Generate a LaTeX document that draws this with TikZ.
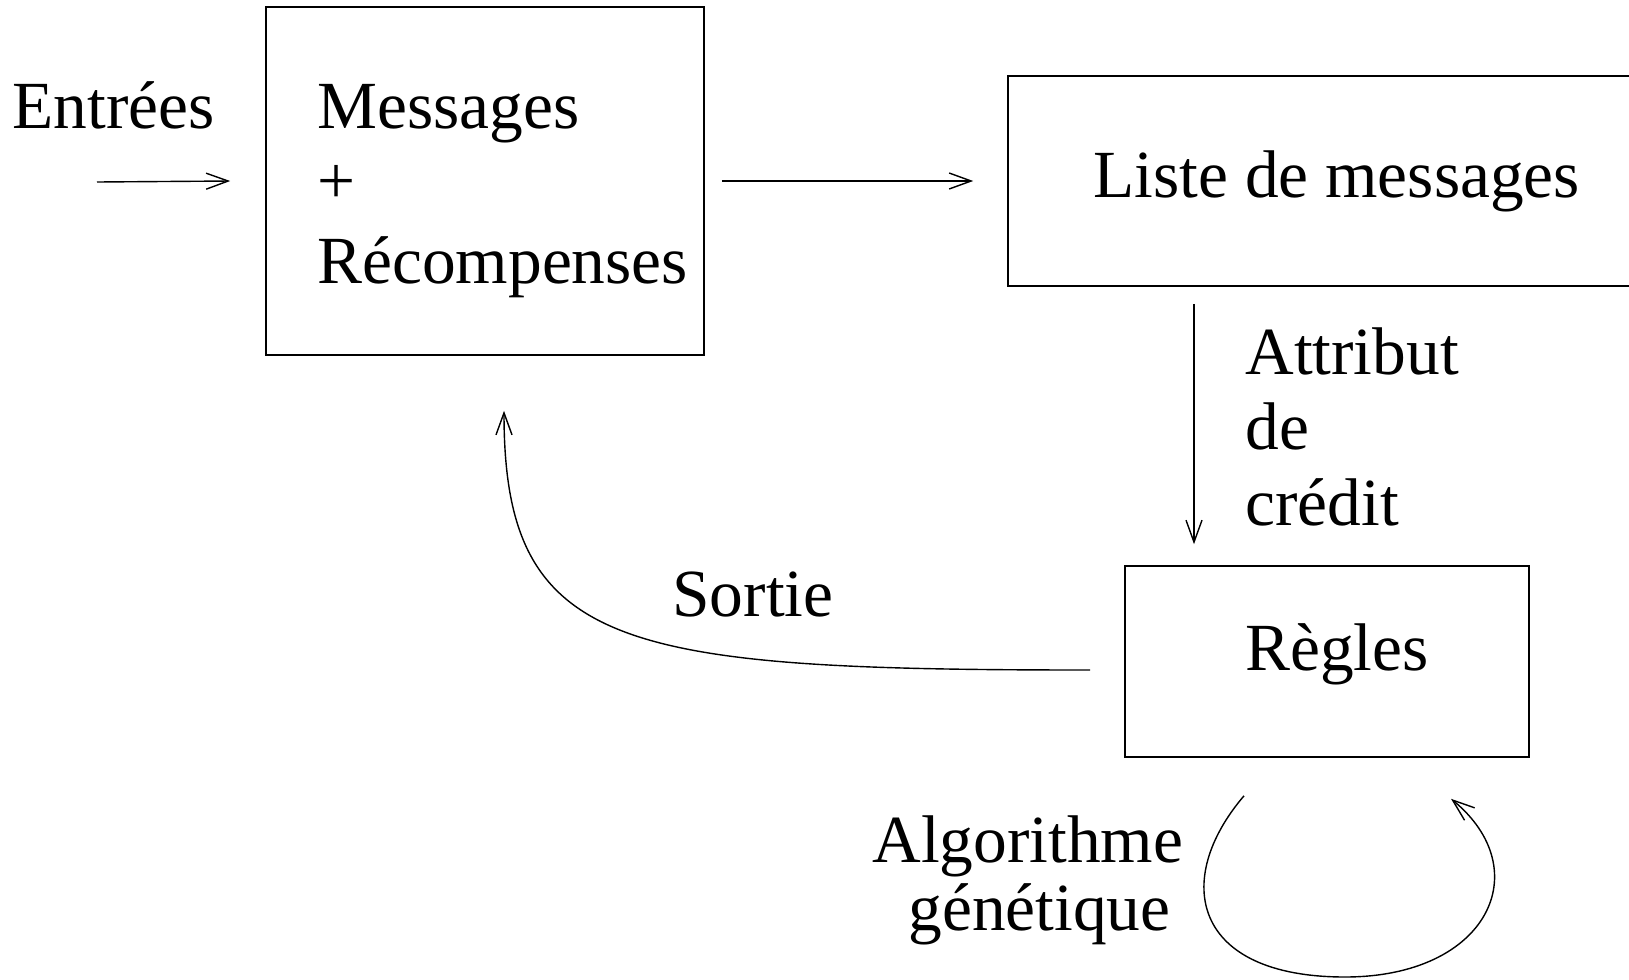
\documentclass[tikz,border=0pt]{standalone}
\usepackage{fontspec}
\setmainfont{Liberation Serif}
\usetikzlibrary{arrows.meta}
\begin{document}
\begin{tikzpicture}[x=0.5pt,y=-0.5pt,
  box/.style={draw,line width=0.8pt,inner sep=0pt,rectangle},
  txt/.style={inner sep=0pt,anchor=base west,font=\fontsize{33.7}{38}\selectfont},
  arr/.style={line width=0.7pt,-{Straight Barb[length=11pt,width=8pt,line width=0.7pt]}}]
\useasboundingbox (0,0) rectangle (1629,980);
% boxes
\node[box,minimum width=219pt,minimum height=174pt] (m) at (485,181) {};
\node[box,minimum width=326pt,minimum height=105pt] (l) at (1334,181) {};
\node[box,minimum width=202pt,minimum height=95.5pt] (r) at (1327,661.5) {};
% texts
\node[txt] (ent) at (12,128) {Entrées};
\node[txt] (m1) at (317,128) {Messages};
\node[txt] (m2) at (317,203) {+};
\node[txt] (m3) at (317,283) {Récompenses};
\node[txt] (lt) at (1093,197) {Liste de messages};
\node[txt] (a1) at (1245,374) {Attribut};
\node[txt] (a2) at (1245,449) {de};
\node[txt] (a3) at (1245,525) {crédit};
\node[txt] (rt) at (1245,670) {Règles};
\node[txt] (so) at (672,616) {Sortie};
\node[txt] (g1) at (872,862) {Algorithme};
\node[txt] (g2) at (908,930) {génétique};
% connectors
\coordinate (ein) at (97,182);
\draw[arr] (ein) -- ([xshift=-17.5pt]m.west);
\draw[arr,shorten <=8.5pt,shorten >=17pt] (m.east) -- (l.west);
\coordinate (dx) at (1194,0);
\draw[arr,shorten <=8.5pt,shorten >=10.5pt] (l.south -| dx) -- (r.north -| dx);
\draw[arr] ([shift={(-34,8.5)}]r.west) .. controls (620,670) and (504,650) .. ([shift={(19,55)}]m.south);
\draw[arr] ([shift={(-83,38)}]r.south) .. controls (1172,880) and (1192,977) .. (1345,977)
  .. controls (1488,977) and (1538,870) .. ([shift={(124,41)}]r.south);
\end{tikzpicture}
\end{document}
